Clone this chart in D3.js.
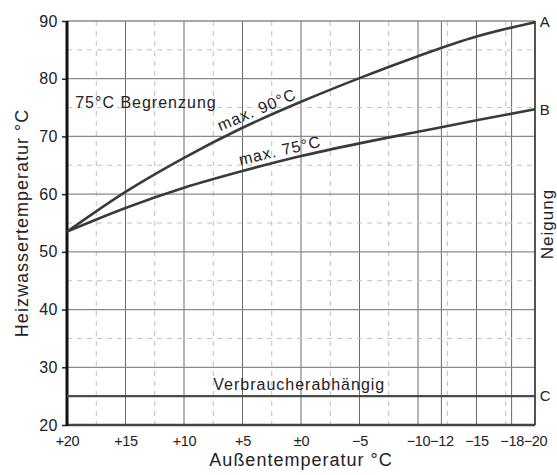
<!DOCTYPE html>
<html>
<head>
<meta charset="utf-8">
<script src="https://cdn.jsdelivr.net/npm/d3@7"></script>
<style>
  body { margin: 0; background: #fff; }
  svg { font-family: "Liberation Sans", Arial, sans-serif; }
</style>
</head>
<body>
<div id="chart"></div>
<script>
const width = 557;
const height = 475;
const margin = {top: 21, left: 67, bottom: 50, right: 22};

// Außentemperatur (x) und Heizwassertemperatur (y)
const outdoorTemps = [20, 15, 10, 5, 0, -5, -10, -15, -20];
const curveA = [53.5, 60.4, 66.3, 71.5, 76.0, 80.1, 83.9, 87.3, 89.8];
const curveB = [53.5, 57.6, 61.1, 64.0, 66.6, 68.8, 70.8, 72.8, 74.7];
const curveC = [25, 25, 25, 25, 25, 25, 25, 25, 25];

const xTicks = [20, 15, 10, 5, 0, -5, -10, -12, -15, -18, -20];
const xTickLabels = ['+20', '+15', '+10', '+5', '\u00b10', '\u22125', '\u221210', '\u221212', '\u221215', '\u221218', '\u221220'];
const yTicks = [20, 30, 40, 50, 60, 70, 80, 90];

const x = d3.scaleLinear()
  .domain([20, -20])
  .range([margin.left, width - margin.right]);

const y = d3.scaleLinear()
  .domain([20, 90])
  .range([height - margin.bottom, margin.top]);

const svg = d3.select('#chart').append('svg')
  .attr('width', width)
  .attr('height', height);

// Gitter: senkrecht alle 2,5 K, waagerecht alle 5 K
const isMajorX = d => d % 5 === 0 || d === -12 || d === -18;
const grid = svg.append('g');
const vLines = d3.range(20, -20.01, -2.5).concat([-12, -18]);
grid.selectAll('line.v').data(vLines).enter().append('line')
  .attr('x1', d => x(d)).attr('x2', d => x(d))
  .attr('y1', y(90)).attr('y2', y(20))
  .attr('stroke', d => isMajorX(d) ? '#6a6a6a' : '#bdbdbd')
  .attr('stroke-width', 1)
  .attr('stroke-dasharray', d => isMajorX(d) ? null : '5,5');

const hLines = d3.range(25, 90.01, 5);
grid.selectAll('line.h').data(hLines).enter().append('line')
  .attr('x1', x(20)).attr('x2', x(-20))
  .attr('y1', d => y(d)).attr('y2', d => y(d))
  .attr('stroke', d => d % 10 === 0 ? '#8a8a8a' : '#c2c2c2')
  .attr('stroke-width', d => d % 10 === 0 ? 1.3 : 1)
  .attr('stroke-dasharray', d => d % 10 === 0 ? null : '5,5');

// Achsen
svg.append('g')
  .attr('transform', `translate(${margin.left}, 0)`)
  .call(d3.axisLeft(y).tickValues(yTicks).tickSize(5).tickPadding(4))
  .call(g => g.select('.domain').remove())
  .call(g => g.selectAll('line').attr('stroke', '#222').attr('stroke-width', 1.5))
  .call(g => g.selectAll('text').attr('font-size', 16).attr('fill', '#222')
    .attr('font-family', '"Liberation Sans", Arial, sans-serif').attr('letter-spacing', 0.5));

svg.append('g')
  .attr('transform', `translate(0, ${y(20)})`)
  .call(d3.axisBottom(x).tickValues(xTicks).tickSize(0).tickPadding(11)
    .tickFormat((d, i) => xTickLabels[i]))
  .call(g => g.select('.domain').remove())
  .call(g => g.selectAll('text').attr('font-size', 14.5).attr('fill', '#222')
    .attr('letter-spacing', -0.3)
    .attr('font-family', '"Liberation Sans", Arial, sans-serif'));

// Rahmenlinien
svg.append('line')
  .attr('x1', x(20)).attr('x2', x(-20)).attr('y1', y(20)).attr('y2', y(20))
  .attr('stroke', '#444').attr('stroke-width', 2.5);
svg.append('line')
  .attr('x1', x(-20)).attr('x2', x(-20)).attr('y1', y(90)).attr('y2', y(20))
  .attr('stroke', '#333').attr('stroke-width', 1.5);
svg.append('line')
  .attr('x1', x(20)).attr('x2', x(20)).attr('y1', y(90)).attr('y2', y(20) + 1)
  .attr('stroke', '#111').attr('stroke-width', 3);

// Heizkurven
const line = d3.line()
  .x((d, i) => x(outdoorTemps[i]))
  .y(d => y(d))
  .curve(d3.curveMonotoneX);

svg.append('path').datum(curveC)
  .attr('d', line).attr('fill', 'none')
  .attr('stroke', '#4a4a4a').attr('stroke-width', 2.2);

[curveA, curveB].forEach(c => {
  svg.append('path').datum(c)
    .attr('d', line).attr('fill', 'none')
    .attr('stroke', '#3a3a3a').attr('stroke-width', 2.6);
});

// Beschriftungen
const label = (tx, ty, text, opts = {}) => svg.append('text')
  .attr('transform', `translate(${x(tx)}, ${y(ty)}) rotate(${opts.rotate || 0})`)
  .attr('font-size', opts.size || 16)
  .attr('letter-spacing', opts.spacing === undefined ? 1 : opts.spacing)
  .attr('text-anchor', opts.anchor || 'start')
  .attr('dy', opts.dy || 0)
  .attr('fill', '#222')
  .text(text);

label(19.3, 75, '75\u00b0C Begrenzung');
label(6.9, 70.9, 'max. 90\u00b0C', {rotate: -23});
label(5.2, 65.0, 'max. 75\u00b0C', {rotate: -13});
label(7.5, 26.0, 'Verbraucherabh\u00e4ngig');

label(-20.4, curveA[curveA.length - 1], 'A', {size: 15, spacing: 0, dy: '0.35em'});
label(-20.4, curveB[curveB.length - 1], 'B', {size: 15, spacing: 0, dy: '0.35em'});
label(-20.4, curveC[curveC.length - 1], 'C', {size: 15, spacing: 0, dy: '0.35em'});

// Achsentitel
svg.append('text')
  .attr('transform', `translate(${(x(20) + x(-20)) / 2}, ${height - 9})`)
  .attr('text-anchor', 'middle')
  .attr('font-size', 18).attr('letter-spacing', 1).attr('fill', '#222')
  .text('Au\u00dfentemperatur \u00b0C');

svg.append('text')
  .attr('transform', `translate(28, ${(y(20) + y(90)) / 2}) rotate(-90)`)
  .attr('text-anchor', 'middle')
  .attr('font-size', 18).attr('letter-spacing', 1).attr('fill', '#222')
  .text('Heizwassertemperatur \u00b0C');

svg.append('text')
  .attr('transform', `translate(553, 224) rotate(-90)`)
  .attr('text-anchor', 'middle')
  .attr('font-size', 17).attr('letter-spacing', 1).attr('fill', '#222')
  .text('Neigung');
</script>
</body>
</html>
